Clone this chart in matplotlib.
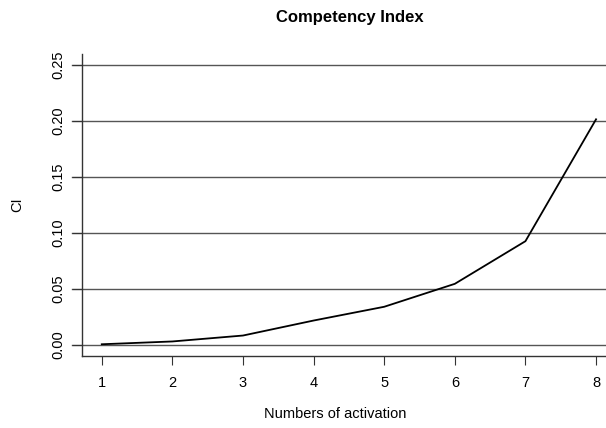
import matplotlib.pyplot as plt

plt.rcParams['font.family'] = ['Liberation Sans', 'DejaVu Sans']

# datos
activaciones = [1, 2, 3, 4, 5, 6, 7, 8]
ci = [0.0005, 0.003, 0.0083, 0.0217, 0.034, 0.0545, 0.0926, 0.2015]
ticks_y = [0.00, 0.05, 0.10, 0.15, 0.20, 0.25]
etiquetas_y = ["0.00", "0.05", "0.10", "0.15", "0.20", "0.25"]

fig = plt.figure(figsize=(6.06, 4.28), dpi=100)
ax = fig.add_axes([0.1353, 0.1682, 0.8809, 0.706])

#lineas horizontales
for t in ticks_y:
    ax.axhline(t, xmin=-0.0187, xmax=1, color="#555555", linewidth=1.0, clip_on=False, zorder=1)

ax.plot(activaciones, ci, color="black", linewidth=1.3, zorder=2)

ax.set_xlim(0.72, 8.28)
ax.set_ylim(-0.01, 0.26)
ax.set_xticks(activaciones)
ax.set_yticks(ticks_y)
ax.set_yticklabels(etiquetas_y, rotation=90, va="center")

ax.spines["top"].set_visible(False)
ax.spines["right"].set_visible(False)
for s in ["left", "bottom"]:
    ax.spines[s].set_color("#333333")
    ax.spines[s].set_linewidth(1.0)

ax.tick_params(axis="x", length=6.5, width=0.8, color="#333333", labelsize=10.5, pad=8)
ax.tick_params(axis="y", length=7.2, width=0.8, color="#333333", labelsize=10.5, pad=5)

ax.set_xlabel("Numbers of activation", fontsize=10.5, labelpad=12, x=0.474)
ax.set_ylabel("CI", fontsize=10.5, labelpad=19)
fig.text(0.577, 0.96, "Competency Index", fontsize=12, fontweight="bold", ha="center", va="center")

fig.savefig("out.png", dpi=100)
